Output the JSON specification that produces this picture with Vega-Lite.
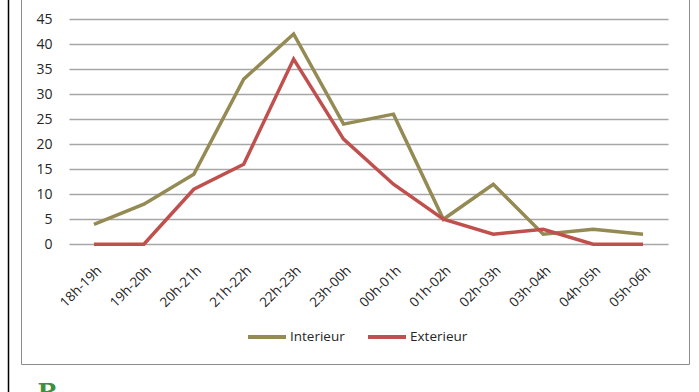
{
  "$schema": "https://vega.github.io/schema/vega-lite/v6.json",
  "autosize": "none",
  "width": 668,
  "height": 368,
  "padding": {"left": 21, "top": -4, "right": 10, "bottom": 28},
  "background": "white",
  "config": {
    "view": {"stroke": "#8c8c8c", "strokeWidth": 1},
    "font": "Open Sans"
  },
  "data": {
    "values": [
      {"slot": "18h-19h", "serie": "Interieur", "value": 4},
      {"slot": "19h-20h", "serie": "Interieur", "value": 8},
      {"slot": "20h-21h", "serie": "Interieur", "value": 14},
      {"slot": "21h-22h", "serie": "Interieur", "value": 33},
      {"slot": "22h-23h", "serie": "Interieur", "value": 42},
      {"slot": "23h-00h", "serie": "Interieur", "value": 24},
      {"slot": "00h-01h", "serie": "Interieur", "value": 26},
      {"slot": "01h-02h", "serie": "Interieur", "value": 5},
      {"slot": "02h-03h", "serie": "Interieur", "value": 12},
      {"slot": "03h-04h", "serie": "Interieur", "value": 2},
      {"slot": "04h-05h", "serie": "Interieur", "value": 3},
      {"slot": "05h-06h", "serie": "Interieur", "value": 2},
      {"slot": "18h-19h", "serie": "Exterieur", "value": 0},
      {"slot": "19h-20h", "serie": "Exterieur", "value": 0},
      {"slot": "20h-21h", "serie": "Exterieur", "value": 11},
      {"slot": "21h-22h", "serie": "Exterieur", "value": 16},
      {"slot": "22h-23h", "serie": "Exterieur", "value": 37},
      {"slot": "23h-00h", "serie": "Exterieur", "value": 21},
      {"slot": "00h-01h", "serie": "Exterieur", "value": 12},
      {"slot": "01h-02h", "serie": "Exterieur", "value": 5},
      {"slot": "02h-03h", "serie": "Exterieur", "value": 2},
      {"slot": "03h-04h", "serie": "Exterieur", "value": 3},
      {"slot": "04h-05h", "serie": "Exterieur", "value": 0},
      {"slot": "05h-06h", "serie": "Exterieur", "value": 0}
    ]
  },
  "layer": [
    {
      "mark": {"type": "line", "strokeWidth": 3.5, "strokeJoin": "miter"},
      "encoding": {
        "x": {
          "field": "slot",
          "type": "ordinal",
          "sort": ["18h-19h", "19h-20h", "20h-21h", "21h-22h", "22h-23h", "23h-00h", "00h-01h", "01h-02h", "02h-03h", "03h-04h", "04h-05h", "05h-06h"],
          "scale": {"type": "point", "range": [48, 647], "padding": 0.5},
          "axis": {
            "title": "B",
            "titleX": 16,
            "titleY": 122,
            "titleAngle": 0,
            "titleAlign": "left",
            "titleBaseline": "top",
            "titleFont": "DejaVu Serif",
            "titleFontSize": 24,
            "titleFontWeight": "bold",
            "titleColor": "#3F8F3F",
            "orient": "bottom",
            "offset": -105,
            "domain": false,
            "ticks": false,
            "tickSize": 0,
            "labelPadding": 4,
            "labelAngle": -45,
            "labelAlign": "right",
            "labelBaseline": "top",
            "labelFontSize": 13.5,
            "labelColor": "#262626",
            "grid": false
          }
        },
        "y": {
          "field": "value",
          "type": "quantitative",
          "scale": {"domain": [0, 45], "range": [248.3, 23], "nice": false, "zero": true},
          "axis": {
            "title": null,
            "orient": "left",
            "values": [0, 5, 10, 15, 20, 25, 30, 35, 40, 45],
            "offset": -31,
            "domain": false,
            "ticks": false,
            "tickSize": 0,
            "labelPadding": 0,
            "labelFontSize": 14,
            "labelColor": "#262626",
            "grid": true,
            "gridColor": "#a6a6a6",
            "gridWidth": 1.5
          }
        },
        "color": {
          "field": "serie",
          "type": "nominal",
          "scale": {"domain": ["Interieur", "Exterieur"], "range": ["#948A54", "#C0504D"]},
          "legend": {
            "title": null,
            "orient": "none",
            "direction": "horizontal",
            "legendX": 225,
            "legendY": 320,
            "symbolType": "stroke",
            "symbolSize": 1444,
            "symbolStrokeWidth": 4,
            "labelFontSize": 13.5,
            "labelColor": "#262626",
            "labelOffset": 2,
            "columnPadding": 15
          }
        }
      }
    },
    {
      "mark": {"type": "point", "opacity": 0},
      "encoding": {
        "y": {
          "field": "value",
          "type": "quantitative",
          "scale": {"domain": [0, 45], "range": [396, -10], "nice": false},
          "axis": {
            "title": null,
            "orient": "left",
            "offset": 13,
            "domain": true,
            "domainColor": "#000000",
            "domainWidth": 1.5,
            "ticks": false,
            "labels": false,
            "grid": false
          }
        }
      }
    }
  ],
  "resolve": {"scale": {"y": "independent"}, "axis": {"y": "independent"}}
}
